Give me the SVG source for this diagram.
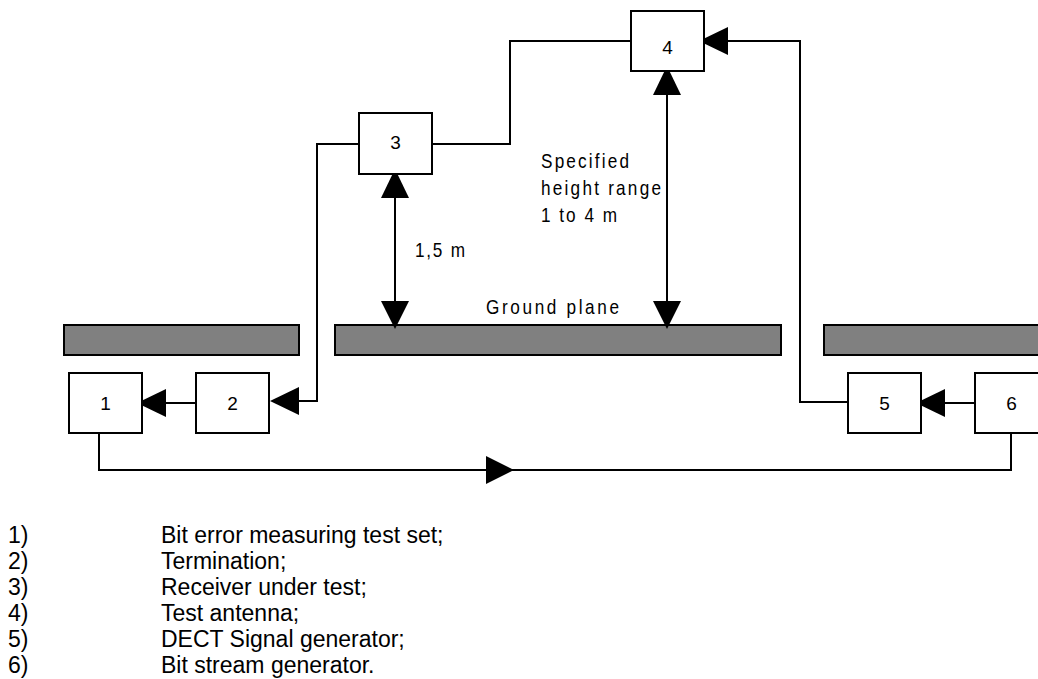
<svg xmlns="http://www.w3.org/2000/svg" width="1038" height="679" viewBox="0 0 1038 679">
  <style>
    .box { fill: #ffffff; stroke: #000000; stroke-width: 2; }
    .plane { fill: #808080; stroke: #000000; stroke-width: 2; }
    .wire { fill: none; stroke: #000000; stroke-width: 2; }
    .head { fill: #000000; stroke: none; }
    .num { font-family: "Liberation Sans", Arial, sans-serif; font-size: 19px; text-anchor: middle; fill: #000; }
    .lbl { font-family: "Liberation Sans", Arial, sans-serif; font-size: 20px; fill: #000; }
    .leg { font-family: "Liberation Sans", Arial, sans-serif; font-size: 23px; fill: #000; }
  </style>

  <!-- ground plane segments -->
  <g id="ground">
    <rect class="plane" x="64" y="325" width="235" height="30"/>
    <rect class="plane" x="335" y="325" width="446" height="30"/>
    <rect class="plane" x="824" y="325" width="230" height="30"/>
  </g>

  <!-- connectors -->
  <g id="connectors">
    <!-- 3 to 4 -->
    <polyline class="wire" points="432,144 510,144 510,41 631,41"/>
    <!-- 3 to 2 -->
    <polyline class="wire" points="359,144 317,144 317,401 299,401"/>
    <polygon class="head" points="270,401 299,387 299,415"/>
    <!-- 2 to 1 -->
    <line class="wire" x1="196" y1="403" x2="166" y2="403"/>
    <polygon class="head" points="137,403 166,389 166,417"/>
    <!-- 5 to 4 -->
    <polyline class="wire" points="848,402 800,402 800,41 728,41"/>
    <polygon class="head" points="699,41 728,27 728,55"/>
    <!-- 6 to 5 -->
    <line class="wire" x1="975" y1="403" x2="945" y2="403"/>
    <polygon class="head" points="916,403 945,389 945,417"/>
    <!-- 1 to 6 -->
    <polyline class="wire" points="99,433 99,470 1011,470 1011,433"/>
    <polygon class="head" points="514,470 486,456 486,484"/>
    <!-- height of receiver -->
    <line class="wire" x1="395" y1="198" x2="395" y2="301"/>
    <polygon class="head" points="395,169 381,198 409,198"/>
    <polygon class="head" points="395,329 381,301 409,301"/>
    <!-- height range of antenna -->
    <line class="wire" x1="667" y1="95" x2="667" y2="301"/>
    <polygon class="head" points="667,66 653,95 681,95"/>
    <polygon class="head" points="667,329 653,301 681,301"/>
  </g>

  <g id="node1">
    <rect class="box" x="69" y="373" width="73" height="60"/>
    <text class="num" x="105.5" y="410">1</text>
  </g>
  <g id="node2">
    <rect class="box" x="196" y="373" width="73" height="60"/>
    <text class="num" x="232.5" y="410">2</text>
  </g>
  <g id="node3">
    <rect class="box" x="359" y="113" width="73" height="61"/>
    <text class="num" x="395.5" y="149">3</text>
  </g>
  <g id="node4">
    <rect class="box" x="631" y="11" width="73" height="60"/>
    <text class="num" x="667.5" y="54">4</text>
  </g>
  <g id="node5">
    <rect class="box" x="848" y="373" width="73" height="60"/>
    <text class="num" x="884.5" y="410">5</text>
  </g>
  <g id="node6">
    <rect class="box" x="975" y="373" width="73" height="60"/>
    <text class="num" x="1011.5" y="410">6</text>
  </g>

  <!-- dimension labels: narrow, letter-spaced lettering -->
  <g id="labels" transform="scale(0.86,1)">
    <text class="lbl" x="629.1" y="168" textLength="102.3" lengthAdjust="spacing">Specified</text>
    <text class="lbl" x="629.1" y="195" textLength="139.5" lengthAdjust="spacing">height range</text>
    <text class="lbl" x="629.1" y="222" textLength="88.4" lengthAdjust="spacing">1 to 4 m</text>
    <text class="lbl" x="482.6" y="257" textLength="58.1" lengthAdjust="spacing">1,5 m</text>
    <text class="lbl" x="565.1" y="314" textLength="154.7" lengthAdjust="spacing">Ground plane</text>
  </g>

  <!-- key -->
  <g id="legend">
    <text class="leg" x="8" y="543">1)</text>
    <text class="leg" x="161" y="543">Bit error measuring test set;</text>
    <text class="leg" x="8" y="569">2)</text>
    <text class="leg" x="161" y="569">Termination;</text>
    <text class="leg" x="8" y="595">3)</text>
    <text class="leg" x="161" y="595">Receiver under test;</text>
    <text class="leg" x="8" y="621">4)</text>
    <text class="leg" x="161" y="621">Test antenna;</text>
    <text class="leg" x="8" y="647">5)</text>
    <text class="leg" x="161" y="647">DECT Signal generator;</text>
    <text class="leg" x="8" y="673">6)</text>
    <text class="leg" x="161" y="673">Bit stream generator.</text>
  </g>
</svg>
